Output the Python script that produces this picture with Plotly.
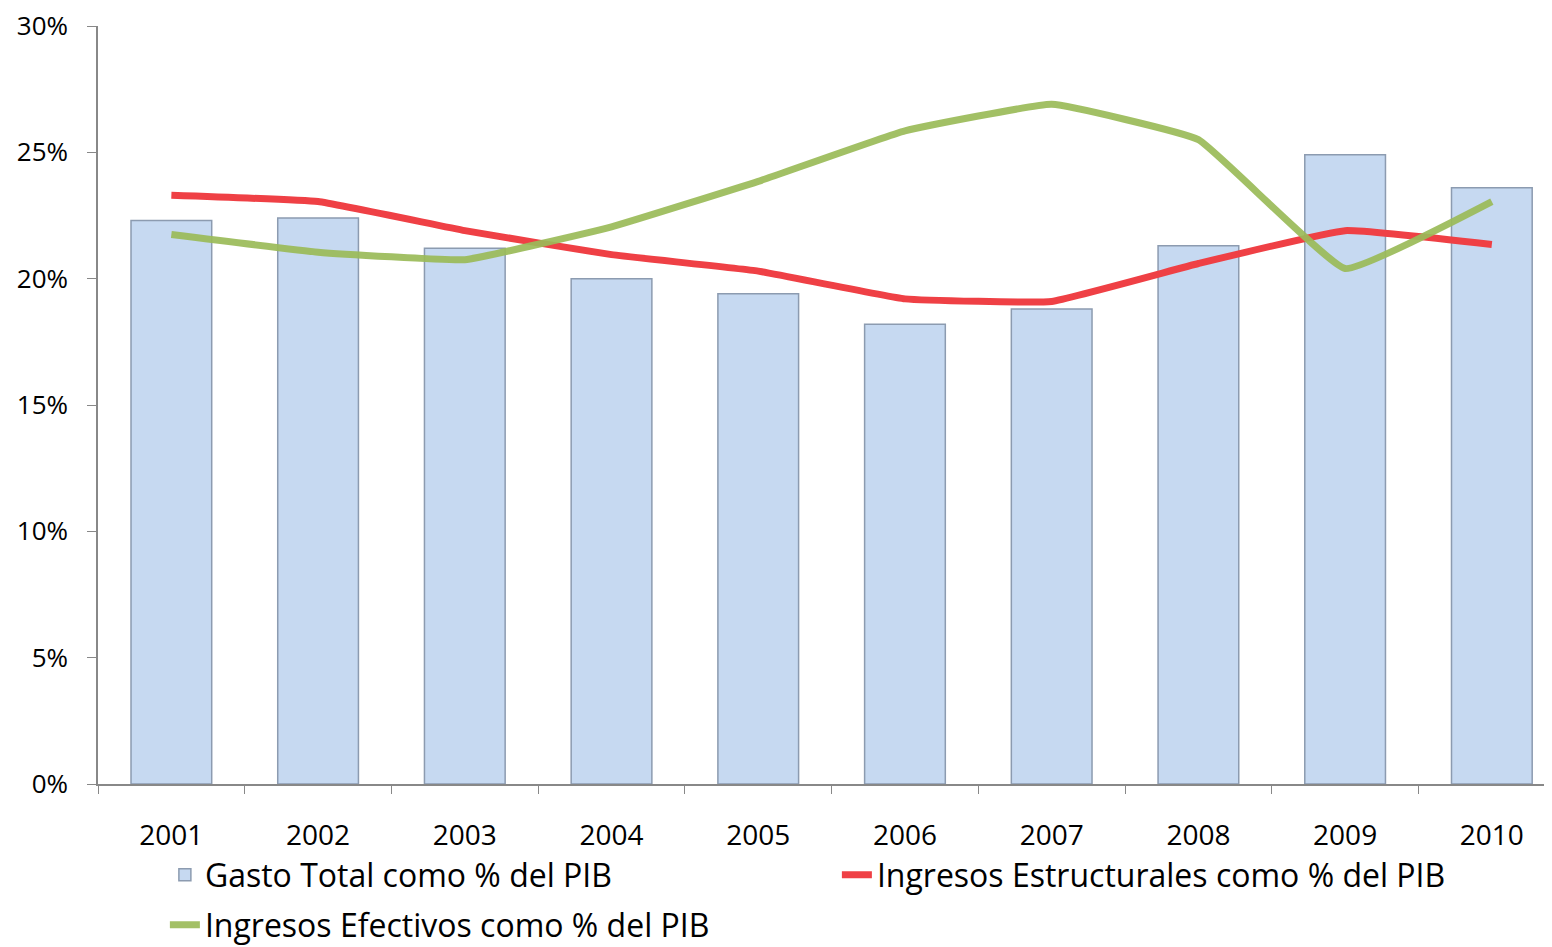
import plotly.graph_objects as go

years = ["2001", "2002", "2003", "2004", "2005", "2006", "2007", "2008", "2009", "2010"]
gasto_total = [22.3, 22.4, 21.2, 20.0, 19.4, 18.2, 18.8, 21.3, 24.9, 23.6]
ingresos_estructurales = [23.3, 23.05, 21.9, 20.95, 20.3, 19.2, 19.1, 20.6, 21.9, 21.35]
ingresos_efectivos = [21.75, 21.05, 20.75, 22.05, 23.85, 25.85, 26.9, 25.5, 20.4, 23.05]

y_ticks = [0, 5, 10, 15, 20, 25, 30]
y_tick_labels = ["0%", "5%", "10%", "15%", "20%", "25%", "30%"]

font_family = "'Open Sans', Lato, sans-serif"

fig = go.Figure()
fig.add_trace(go.Bar(
    x=years, y=gasto_total, name="Gasto Total como % del PIB",
    marker=dict(color="#C6D9F1", line=dict(color="#8C9BB0", width=1.5)),
    width=0.55, legend="legend",
))
fig.add_trace(go.Scatter(
    x=years, y=ingresos_estructurales, name="Ingresos Estructurales como % del PIB",
    mode="lines", line=dict(color="#EF4045", width=7, shape="spline", smoothing=0.3),
    legend="legend",
))
fig.add_trace(go.Scatter(
    x=years, y=ingresos_efectivos, name="Ingresos Efectivos como % del PIB",
    mode="lines", line=dict(color="#9BBB59", width=7, shape="spline", smoothing=0.3),
    opacity=0.92, legend="legend2",
))

legend_common = dict(
    orientation="h", xanchor="left", yanchor="middle",
    font=dict(size=32, family=font_family), bgcolor="rgba(0,0,0,0)",
    itemwidth=30,
)

fig.update_layout(
    width=1552, height=947,
    margin=dict(l=90, r=8, t=18, b=171, autoexpand=False),
    paper_bgcolor="white", plot_bgcolor="white",
    font=dict(family=font_family, size=27, color="#000000"),
    showlegend=True,
    legend=dict(**legend_common, x=0.046, y=-0.12, entrywidth=627, entrywidthmode="pixels"),
    legend2=dict(**legend_common, x=0.046, y=-0.186),
    xaxis=dict(
        type="category", range=[-0.5, 9.41],
        showline=True, linecolor="#888888", linewidth=1.5,
        ticks="outside", ticklen=8, tickcolor="#888888", tickson="boundaries",
        showgrid=False, ticklabelstandoff=26, ticklabeloverflow="allow",
        tickfont=dict(size=28),
    ),
    yaxis=dict(
        range=[0, 30], tickvals=y_ticks, ticktext=y_tick_labels,
        showline=True, linecolor="#888888", linewidth=1.5,
        ticks="outside", ticklen=9, tickcolor="#888888",
        showgrid=False, zeroline=False, ticklabelstandoff=14,
        ticklabeloverflow="allow",
        tickfont=dict(size=26),
    ),
)

fig.write_html("out.html")
